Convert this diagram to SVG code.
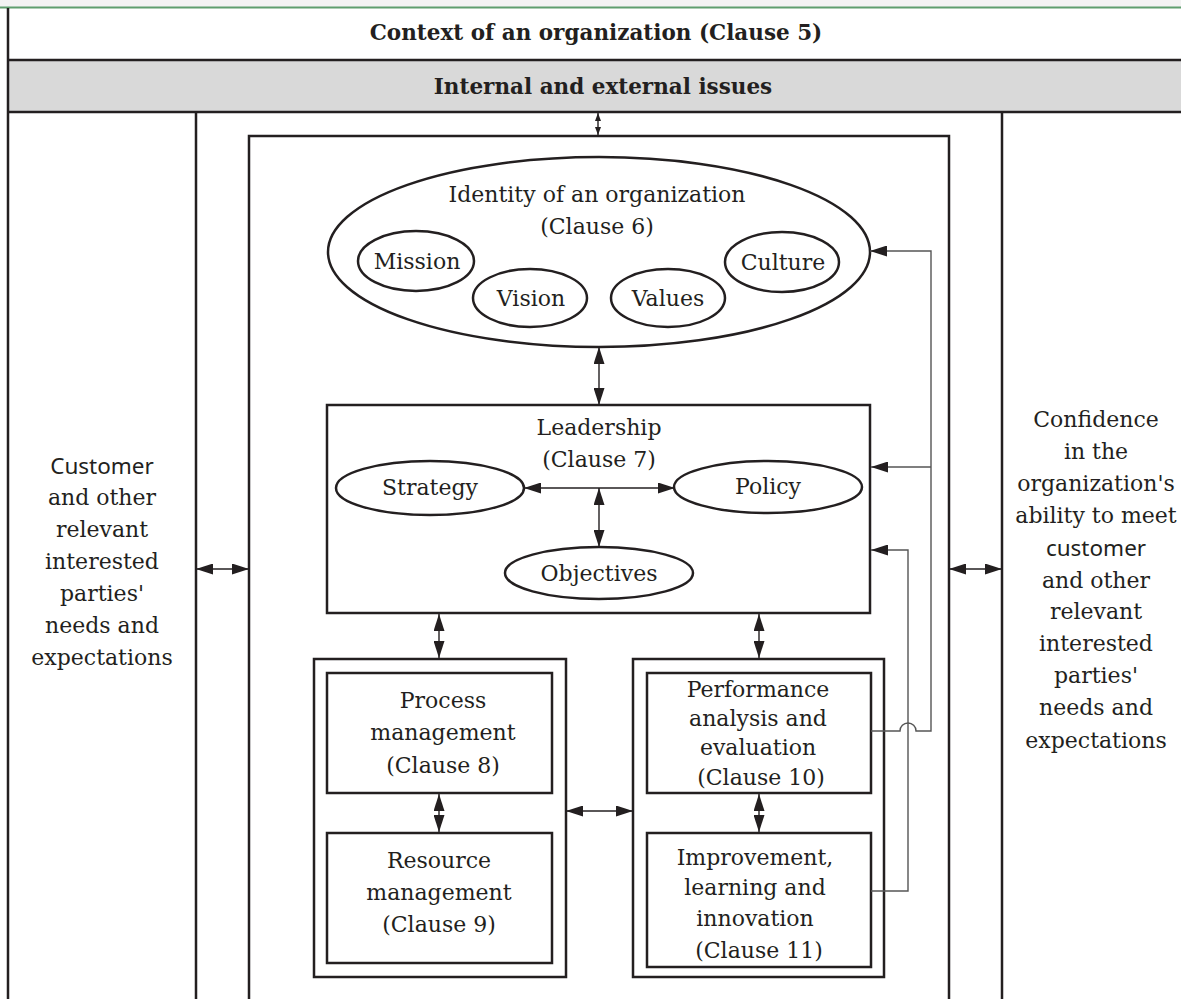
<svg xmlns="http://www.w3.org/2000/svg" width="1181" height="999" viewBox="0 0 1181 999">
<style>
.t{font-family:"DejaVu Serif","Liberation Serif",serif;font-size:22px;fill:#231f20;text-anchor:middle}
.h{font-family:"DejaVu Serif","Liberation Serif",serif;font-size:21.5px;font-weight:bold;fill:#231f20;text-anchor:middle}
.s{font-family:"Noto Sans","DejaVu Sans",sans-serif;font-size:22.5px;fill:#231f20}
.b{fill:none;stroke:#231f20;stroke-width:2.5}
.e{fill:#fff;stroke:#231f20;stroke-width:2.5}
.c{fill:none;stroke:#231f20;stroke-width:1.4}
.f{fill:none;stroke:#555;stroke-width:1.4}
</style>
<defs>
<marker id="a" markerUnits="userSpaceOnUse" markerWidth="17" markerHeight="11" refX="17" refY="5.5" orient="auto-start-reverse"><path d="M0,0 L17,5.5 L0,11 z" fill="#231f20"/></marker>
<marker id="sm" markerUnits="userSpaceOnUse" markerWidth="8" markerHeight="6" refX="8" refY="3" orient="auto-start-reverse"><path d="M0,0 L8,3 L0,6 z" fill="#231f20"/></marker>
</defs>
<rect x="0" y="0" width="1181" height="7" fill="#f3f3f3"/>
<line x1="0" y1="7.5" x2="1181" y2="7.5" stroke="#5f9e6e" stroke-width="2"/>
<g id="frame">
<rect x="8" y="60" width="1180" height="52" fill="#d9d9d9"/>
<line class="b" x1="8" y1="8" x2="8" y2="999"/>
<line class="b" x1="8" y1="60" x2="1181" y2="60"/>
<line class="b" x1="8" y1="112" x2="1181" y2="112"/>
<line class="b" x1="196" y1="112" x2="196" y2="999"/>
<line class="b" x1="1002" y1="112" x2="1002" y2="999"/>
<path class="b" d="M249,999 V136 H949 V999"/>
<text class="h" x="596" y="40">Context of an organization (Clause 5)</text>
<text class="h" x="603" y="94">Internal and external issues</text>
</g>
<g id="left-text">
<text class="t" x="102"><tspan class="s" x="102" y="474" text-anchor="middle">Customer</tspan><tspan x="102" y="505">and other</tspan><tspan x="102" y="537">relevant</tspan><tspan x="102" y="569">interested</tspan><tspan x="102" y="601">parties'</tspan><tspan x="102" y="633">needs and</tspan><tspan x="102" y="665">expectations</tspan></text>
</g>
<g id="right-text">
<text class="t" x="1096"><tspan x="1096" y="427">Confidence</tspan><tspan x="1096" y="459">in the</tspan><tspan x="1096" y="491">organization's</tspan><tspan x="1096" y="523">ability to meet</tspan><tspan class="s" x="1096" y="556" text-anchor="middle">customer</tspan><tspan x="1096" y="588">and other</tspan><tspan x="1096" y="619">relevant</tspan><tspan x="1096" y="651">interested</tspan><tspan x="1096" y="683">parties'</tspan><tspan x="1096" y="715">needs and</tspan><tspan x="1096" y="748">expectations</tspan></text>
</g>
<g id="identity">
<ellipse class="e" cx="599" cy="252" rx="271" ry="95"/>
<text class="t" x="597" y="202">Identity of an organization</text>
<text class="t" x="597" y="234">(Clause 6)</text>
</g>
<g id="mission"><ellipse class="e" cx="416" cy="261" rx="58" ry="30"/><text class="t" x="417" y="269">Mission</text></g>
<g id="vision"><ellipse class="e" cx="530" cy="298" rx="57" ry="29"/><text class="t" x="531" y="306">Vision</text></g>
<g id="values"><ellipse class="e" cx="668" cy="298" rx="57" ry="29"/><text class="t" x="668" y="306">Values</text></g>
<g id="culture"><ellipse class="e" cx="782" cy="262" rx="57" ry="30"/><text class="t" x="783" y="270">Culture</text></g>
<g id="leadership">
<rect class="b" x="327" y="405" width="543" height="208"/>
<text class="t" x="599" y="435">Leadership</text>
<text class="t" x="599" y="467">(Clause 7)</text>
</g>
<g id="strategy"><ellipse class="e" cx="430" cy="488" rx="94" ry="27"/><text class="t" x="430" y="495">Strategy</text></g>
<g id="policy"><ellipse class="e" cx="768" cy="487" rx="94" ry="26"/><text class="t" x="768" y="494">Policy</text></g>
<g id="objectives"><ellipse class="e" cx="599" cy="573" rx="94" ry="26"/><text class="t" x="599" y="581">Objectives</text></g>
<g id="left-group"><rect class="b" x="314" y="659" width="252" height="318"/></g>
<g id="process">
<rect class="b" x="327" y="673" width="225" height="120"/>
<text class="t" x="443" y="708">Process</text>
<text class="t" x="443" y="740">management</text>
<text class="t" x="443" y="773">(Clause 8)</text>
</g>
<g id="resource">
<rect class="b" x="327" y="833" width="225" height="130"/>
<text class="t" x="439" y="868">Resource</text>
<text class="t" x="439" y="900">management</text>
<text class="t" x="439" y="932">(Clause 9)</text>
</g>
<g id="right-group"><rect class="b" x="633" y="659" width="251" height="318"/></g>
<g id="performance">
<rect class="b" x="647" y="673" width="224" height="120"/>
<text class="t" x="758" y="697">Performance</text>
<text class="t" x="758" y="726">analysis and</text>
<text class="t" x="758" y="755">evaluation</text>
<text class="t" x="761" y="785">(Clause 10)</text>
</g>
<g id="improvement">
<rect class="b" x="647" y="833" width="224" height="134"/>
<text class="t" x="755" y="865">Improvement,</text>
<text class="t" x="755" y="895">learning and</text>
<text class="t" x="755" y="926">innovation</text>
<text class="t" x="759" y="958">(Clause 11)</text>
</g>
<g id="connectors">
<line class="c" x1="598" y1="113" x2="598" y2="135" marker-start="url(#sm)" marker-end="url(#sm)"/>
<line class="c" x1="599" y1="347" x2="599" y2="405" marker-start="url(#a)" marker-end="url(#a)"/>
<line class="c" x1="524" y1="488" x2="675" y2="488" marker-start="url(#a)" marker-end="url(#a)"/>
<line class="c" x1="599" y1="488" x2="599" y2="547" marker-start="url(#a)" marker-end="url(#a)"/>
<line class="c" x1="439" y1="614" x2="439" y2="658" marker-start="url(#a)" marker-end="url(#a)"/>
<line class="c" x1="759" y1="614" x2="759" y2="658" marker-start="url(#a)" marker-end="url(#a)"/>
<line class="c" x1="439" y1="794" x2="439" y2="832" marker-start="url(#a)" marker-end="url(#a)"/>
<line class="c" x1="759" y1="794" x2="759" y2="832" marker-start="url(#a)" marker-end="url(#a)"/>
<line class="c" x1="566" y1="811" x2="633" y2="811" marker-start="url(#a)" marker-end="url(#a)"/>
<line class="c" x1="196" y1="569" x2="249" y2="569" marker-start="url(#a)" marker-end="url(#a)"/>
<line class="c" x1="949" y1="569" x2="1002" y2="569" marker-start="url(#a)" marker-end="url(#a)"/>
<path class="f" d="M871,731 H900 A8,8 0 0 1 916,731 H931 V251 H870" marker-end="url(#a)"/>
<path class="f" d="M931,467 H871" marker-end="url(#a)"/>
<path class="f" d="M871,891 H908 V550 H871" marker-end="url(#a)"/>
</g>
</svg>
